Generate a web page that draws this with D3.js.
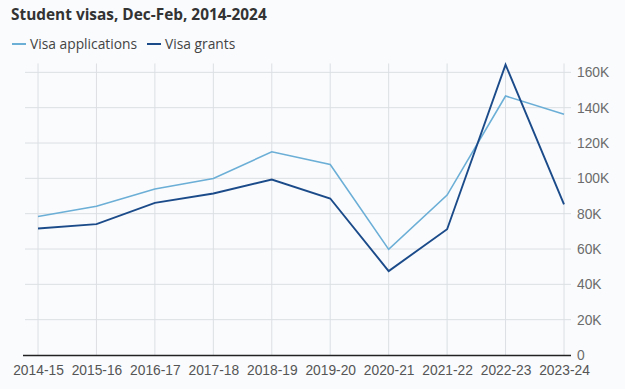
<!DOCTYPE html>
<html><head><meta charset="utf-8">
<script src="https://cdn.jsdelivr.net/npm/d3@7"></script>
<style>
html,body{margin:0;padding:0;background:#f9fbfd;}
svg{display:block;font-family:"Open Sans",sans-serif;}
</style></head>
<body><svg id="c" width="625" height="389"></svg>
<script>
const categories = ["2014-15","2015-16","2016-17","2017-18","2018-19","2019-20","2020-21","2021-22","2022-23","2023-24"];
const applications = [78400, 84200, 94000, 99900, 115000, 107800, 59800, 90500, 146600, 136300];
const grants = [71600, 74100, 86100, 91400, 99300, 88600, 47500, 71200, 164300, 85200];
const yTicks = [0, 20000, 40000, 60000, 80000, 100000, 120000, 140000, 160000];
const seriesNames = ["Visa applications", "Visa grants"];
const colors = ["#6baed6", "#1c4b8a"];

const svg = d3.select("#c");
const x = d3.scalePoint().domain(categories).range([38, 564]);
const y = d3.scaleLinear().domain([0, 165000]).range([355, 63.5]);

// horizontal grid
svg.append("g").selectAll("line").data(yTicks.filter(d=>d>0)).join("line")
  .attr("x1", 25).attr("x2", 571).attr("y1", d=>y(d)).attr("y2", d=>y(d))
  .attr("stroke", "#dcdfe3").attr("stroke-width", 1);
// vertical grid
svg.append("g").selectAll("line").data(categories).join("line")
  .attr("x1", d=>x(d)).attr("x2", d=>x(d)).attr("y1", y(165000)).attr("y2", 355)
  .attr("stroke", "#dcdfe3").attr("stroke-width", 1);

// y axis on right
const yAxis = d3.axisRight(y).tickValues(yTicks)
  .tickFormat(d => d === 0 ? "0" : (d/1000) + "K").tickSize(0).tickPadding(13);
const gy = svg.append("g").attr("transform", "translate(564,0)").call(yAxis);
gy.select(".domain").remove();
gy.selectAll("text").attr("fill", "#6b6b6b").style("font-size", "13.8px");

// baseline
svg.append("line").attr("x1", 23).attr("x2", 571).attr("y1", 355.5).attr("y2", 355.5)
  .attr("stroke", "#222").attr("stroke-width", 1.4);

// x axis labels
const xAxis = d3.axisBottom(x).tickSize(0).tickPadding(9);
const gx = svg.append("g").attr("transform", "translate(0,356)").call(xAxis);
gx.select(".domain").remove();
gx.selectAll("text").attr("fill", "#555").style("font-size", "13.8px");

// lines
const line = d3.line().x((d,i)=>x(categories[i])).y(d=>y(d));
[applications, grants].forEach((s, k) => {
  svg.append("path").datum(s).attr("d", line).attr("fill", "none")
    .attr("stroke", colors[k]).attr("stroke-width", k===0 ? 1.6 : 1.9)
    .attr("stroke-linejoin", "miter");
});

// title
svg.append("text").attr("x", 11).attr("y", 20).text("Student visas, Dec-Feb, 2014-2024")
  .attr("fill", "#333").style("font-size", "15.4px").style("font-weight", "700");

// legend
const legX = [12, 147];
seriesNames.forEach((n, k) => {
  svg.append("line").attr("x1", legX[k]).attr("x2", legX[k]+14).attr("y1", 44).attr("y2", 44)
    .attr("stroke", colors[k]).attr("stroke-width", 2);
  svg.append("text").attr("x", legX[k]+18).attr("y", 49).text(n)
    .attr("fill", "#444").style("font-size", "13.8px");
});
</script></body></html>
